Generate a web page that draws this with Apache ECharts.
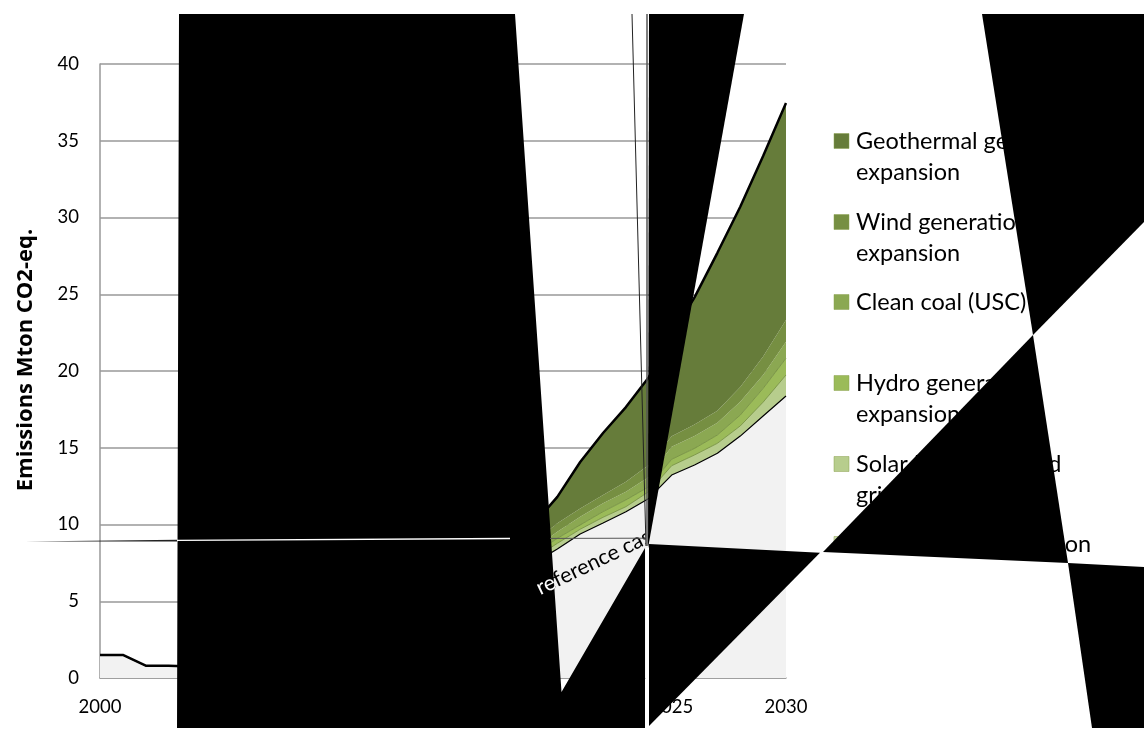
<!DOCTYPE html>
<html>
<head>
<meta charset="utf-8">
<style>html,body{margin:0;padding:0;background:#fff}#chart{width:1144px;height:731px}</style>
<script src="https://cdn.jsdelivr.net/npm/echarts@6/dist/echarts.min.js"></script>
</head>
<body>
<div id="chart"></div>
<script>
// Values. 2005-2019 lie behind the black shapes, so those are rough estimates.
const years = [2000,2001,2002,2003,2004,2005,2006,2007,2008,2009,2010,2011,2012,2013,2014,2015,2016,2017,2018,2019,2020,2021,2022,2023,2024,2025,2026,2027,2028,2029,2030];
const referenceCase = [1.5,1.5,0.8,0.8,0.75,1.1,1.5,1.9,2.3,2.7,3.1,3.5,3.9,4.2,4.6,5.0,5.6,6.2,6.9,7.5,8.4,9.38,10.1,10.83,11.7,13.22,13.88,14.64,15.76,17.07,18.37];
const biomass = [0,0,0,0,0,0,0,0,0,0,0,0,0,0,0,0,0,0,0,0,0,0,0,0,0,0,0,0,0,0,0];
const solar = [0,0,0,0,0,0,0,0,0,0,0,0,0,0,0,0,0.05,0.1,0.2,0.3,0.37,0.31,0.37,0.33,0.44,0.61,0.65,0.65,0.66,0.9,1.37];
const hydro = [0,0,0,0,0,0,0,0,0,0,0,0,0,0,0,0,0.05,0.1,0.2,0.28,0.33,0.28,0.37,0.44,0.32,0.42,0.43,0.54,0.71,0.9,1.09];
const cleanCoal = [0,0,0,0,0,0,0,0,0,0,0,0,0,0,0,0,0.05,0.2,0.3,0.35,0.43,0.54,0.54,0.54,0.64,0.82,0.81,0.8,0.87,0.87,1.08];
const wind = [0,0,0,0,0,0,0,0,0,0,0,0,0,0,0,0,0.05,0.2,0.35,0.45,0.55,0.54,0.54,0.65,0.78,0.68,0.74,0.78,0.95,1.2,1.41];
const geothermal = [0,0,0,0,0,0,0,0,0,0,0,0,0,0,0,0,0.1,0.4,0.8,1.2,1.72,3.02,4.04,4.86,5.72,6.55,8.29,10.29,11.75,13.06,14.14];
const legendLabels = ["Geothermal generation\nexpansion","Wind generation\nexpansion","Clean coal (USC)","Hydro generation\nexpansion","Solar PV distributed\ngrid","Biomass co-generation"];
const yAxisTitle = "Emissions Mton CO2-eq.";
const areaLabel = "reference case";
const areaLabelStart = "re";

const font = 'Lato';
const colors = {geo:'#667C3A',wind:'#768F42',clean:'#8BA852',hydro:'#9BBB59',solar:'#B7CD8D',bio:'#CBDAAE',ref:'#F2F2F2'};
const legendColors = [colors.geo,colors.wind,colors.clean,colors.hydro,colors.solar,colors.bio];
const legendTops = [141,222,302,383,464,544];

function band(name,data,fill,line,width){
  return {name,type:'line',stack:'total',data,symbol:'none',smooth:false,
    areaStyle:{color:fill,opacity:1},lineStyle:{color:line,width},itemStyle:{color:fill},z:2};
}
function shape(points,fill,z){
  return {type:'polygon',shape:{points},style:{fill},z:z||100,silent:true};
}
function stroke(points,color,w,z){
  return {type:'polyline',shape:{points},style:{stroke:color,lineWidth:w,fill:null},z:z||101,silent:true};
}
const legendGraphics = [];
legendLabels.forEach((t,i)=>{
  legendGraphics.push({type:'rect',shape:{x:834,y:legendTops[i]-7.5,width:15,height:15},style:{fill:legendColors[i],stroke:'#8AA04F',lineWidth:0.5},z:50,silent:true});
  legendGraphics.push({type:'text',x:856,y:legendTops[i]-15,style:{text:t,font:'23.5px '+font,fill:'#000',lineHeight:31,verticalAlign:'top',align:'left'},z:50,silent:true});
});
const labelAt = {x:542,y:599,rotation:25.5*Math.PI/180};
const labelFont = '21.5px '+font;

const chart = echarts.init(document.getElementById('chart'),null,{renderer:'canvas'});
chart.setOption({
  animation:false,
  backgroundColor:'#fff',
  grid:{left:100,right:358,top:64,bottom:53,containLabel:false},
  xAxis:{type:'category',boundaryGap:false,data:years.map(String),
    axisLine:{lineStyle:{color:'#999',width:1.5}},axisTick:{show:false},
    axisLabel:{interval:4,color:'#000',fontFamily:font,fontSize:18.5,margin:20,showMaxLabel:true,showMinLabel:true}},
  yAxis:{type:'value',min:0,max:40,interval:5,
    axisLine:{show:true,lineStyle:{color:'#999',width:1.5}},axisTick:{show:false},
    splitLine:{lineStyle:{color:'#999',width:1.5}},
    axisLabel:{color:'#000',fontFamily:font,fontSize:18.5,margin:21}},
  series:[
    band('reference case',referenceCase,colors.ref,'#000',1.2),
    band('Biomass co-generation',biomass,colors.bio,'#000',0),
    band('Solar',solar,colors.solar,'#6E8A3A',0.8),
    band('Hydro',hydro,colors.hydro,'#6E8A3A',0.8),
    band('Clean coal',cleanCoal,colors.clean,colors.clean,0),
    band('Wind',wind,colors.wind,colors.wind,0),
    band('Geothermal',geothermal,colors.geo,'#000',2.5)
  ],
  graphic:[
    {type:'text',x:26,y:360,rotation:Math.PI/2,style:{text:yAxisTitle,font:'bold 22px "Open Sans"',fill:'#000',align:'center',verticalAlign:'middle'},z:50,silent:true},
    {type:'text',...labelAt,style:{text:areaLabel,font:labelFont,fill:'#000',align:'left',verticalAlign:'bottom'},z:50,silent:true},
    ...legendGraphics,
    // the tail of the label is hidden in the reference
    shape([[645.5,505],[682,505],[682,548],[645.5,548]],colors.ref,60),
    // white strip and black shapes laid over the chart in the reference
    shape([[645.5,548],[649,548],[649,729],[645.5,729]],'#fff'),
    shape([[179,14],[515,14],[561.5,692],[645,548],[645,728],[177,728]],'#000'),
    shape([[649,14],[744,14],[648,548]],'#000'),
    shape([[649,544],[820,552.7],[649,726]],'#000'),
    shape([[1033,335],[823,552],[1068,563]],'#000'),
    shape([[982,14],[1144,14],[1144,222],[1033,335]],'#000'),
    shape([[1068,563],[1144,567],[1144,728],[1092,728]],'#000'),
    {type:'text',...labelAt,style:{text:areaLabelStart,font:labelFont,fill:'#fff',align:'left',verticalAlign:'bottom'},z:102,silent:true},
    stroke([[177,540.3],[510,538.5]],'#fff',1.3),
    shape([[25,541.5],[177,539.8],[177,541.4]],'#222'),
    stroke([[550,538.4],[645,538.2]],'#555',1),
    stroke([[632,14],[646,546]],'#222',1),
    stroke([[647,14],[647,546]],'#555',1.5)
  ]
});
</script>
</body>
</html>
